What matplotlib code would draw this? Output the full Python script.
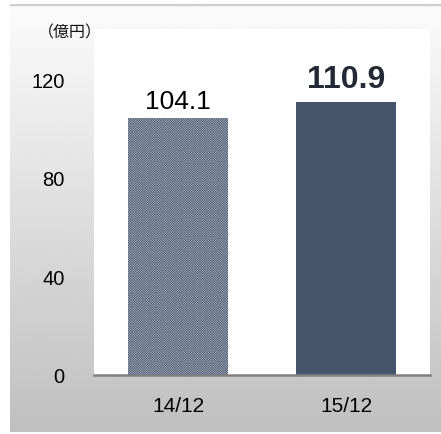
import numpy as np
import matplotlib.pyplot as plt

plt.rcParams['font.family'] = ['Liberation Sans', 'Noto Sans CJK JP', 'DejaVu Sans']
plt.rcParams['hatch.linewidth'] = 0.35

periods = ['14/12', '15/12']
sales = [104.1, 110.9]
yticks = [0, 40, 80, 120]
unit_label = '（億円）'

navy = '#44546a'

fig = plt.figure(figsize=(4.41, 4.35), dpi=100)
fig.patch.set_facecolor('white')

# gray gradient panel behind the chart
bg = fig.add_axes([10 / 441, 2 / 435, 431 / 441, 428 / 435])
grad = np.linspace(0.985, 0.75, 256).reshape(-1, 1)
bg.imshow(grad, aspect='auto', cmap='gray', vmin=0, vmax=1, extent=[0, 1, 0, 1])
bg.set_xlim(0, 1)
bg.set_ylim(0, 1)
bg.axis('off')
bg.add_line(plt.Line2D([0, 1], [1, 1], color='#cfcfcf', lw=2.5, transform=bg.transAxes))

ax = fig.add_axes([94 / 441, 59 / 435, 336 / 441, 346 / 435])
ax.set_facecolor('white')
x = np.arange(len(periods))
bars = ax.bar(x, sales, width=0.59, color=['#b6bdc7', navy], edgecolor=[navy, navy], linewidth=0)
bars[0].set_hatch('xxxxxxxxxxxxxx')

ax.set_xlim(-0.5, 1.5)
ax.set_ylim(0, 140.3)
ax.set_yticks(yticks)
ax.set_yticklabels([str(v) for v in yticks], fontsize=14.5)
ax.set_xticks(x)
ax.set_xticklabels(periods, fontsize=15)
ax.tick_params(axis='y', length=0, pad=21)
ax.tick_params(axis='x', length=0, pad=15)
for s in ['top', 'right', 'left']:
    ax.spines[s].set_visible(False)
ax.spines['bottom'].set_color('#808080')
ax.spines['bottom'].set_linewidth(1.8)

ax.text(x[0], sales[0] + 2, f'{sales[0]:.1f}', ha='center', va='bottom', fontsize=19, color='black')
ax.text(x[1], sales[1] + 3, f'{sales[1]:.1f}', ha='center', va='bottom', fontsize=23,
        fontweight='bold', color='#222a35')

fig.text(70 / 441, 1 - 33 / 435, unit_label, ha='center', va='center', fontsize=11.5,
         color='#111111', family='Noto Sans CJK JP')

fig.savefig('out.png', dpi=100)
